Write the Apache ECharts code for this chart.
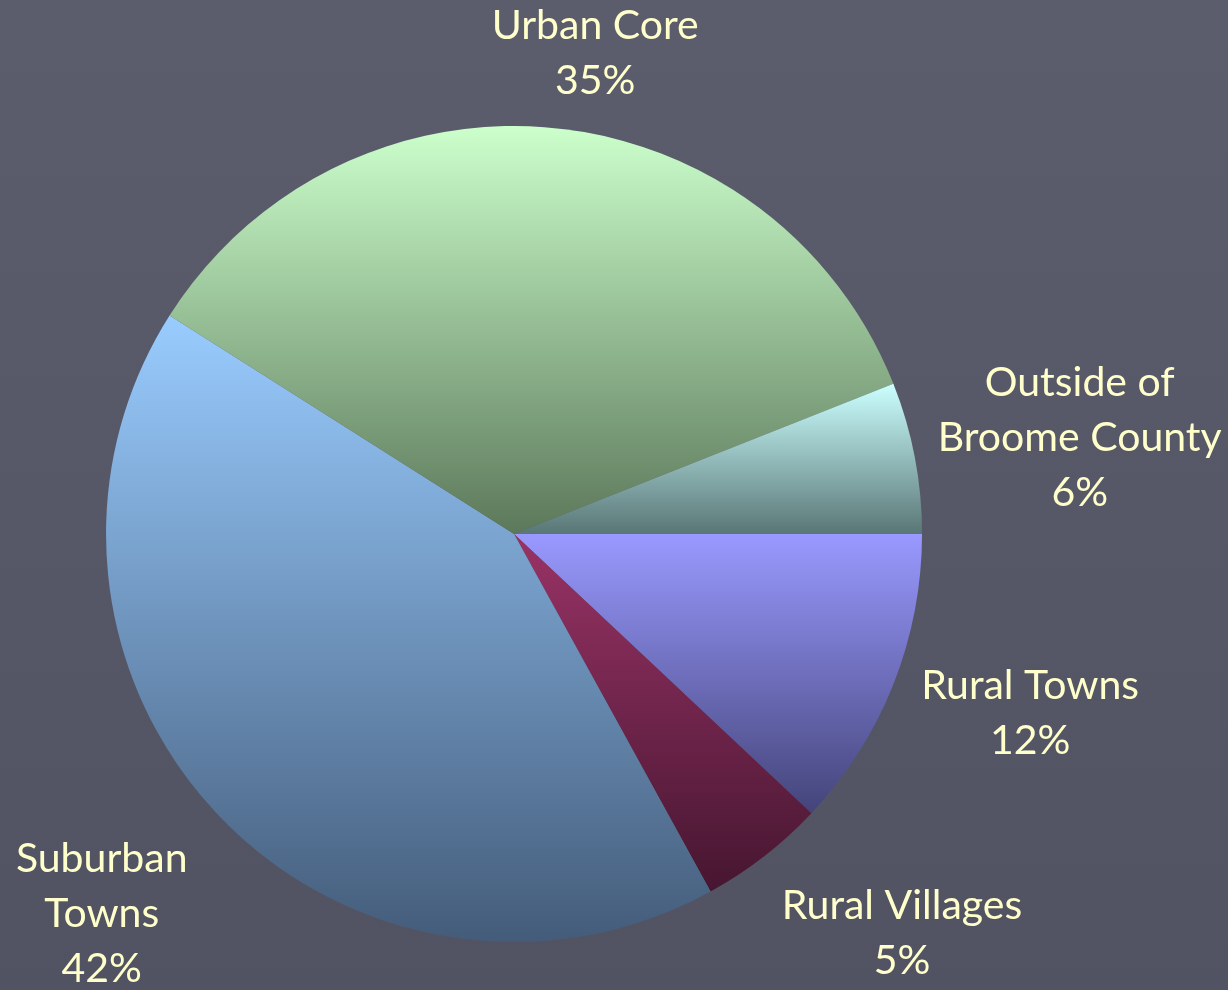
<!DOCTYPE html>
<html>
<head>
<meta charset="utf-8">
<script src="https://cdn.jsdelivr.net/npm/echarts@6/dist/echarts.min.js"></script>
<style>
html,body{margin:0;padding:0;background:#585969;}
#chart{width:1228px;height:990px;}
</style>
</head>
<body>
<div id="chart"></div>
<script>
const categories = ['Rural Towns', 'Rural Villages', 'Suburban\nTowns', 'Urban Core', 'Outside of\nBroome County'];
const shares = [12, 5, 42, 35, 6];
const topColors = ['#9999ff', '#993366', '#99ccff', '#ccffcc', '#ccffff'];
const bottomColors = ['#44447a', '#461630', '#445c7a', '#5c785a', '#5a7676'];

// layout settings (not data)
const CX = 0.4186, CY = 0.5394, R = 408, GAP = 18;
const FONT_SIZE = 41, LINE_H = 55, BOX_W = 330;
const labelNudge = [[7, -22], [55, -30], [-15, 7], [35, 8], [-5, 13]];

const chart = echarts.init(document.getElementById('chart'));
const total = shares.reduce((a, b) => a + b, 0);
const cum = [];
shares.reduce((acc, v, i) => { cum[i] = acc; return acc + v; }, 0);

const ctx = document.createElement('canvas').getContext('2d');
ctx.font = FONT_SIZE + 'px Lato';
function labelLines(i) { return categories[i].split('\n').concat([shares[i] + '%']); }
function labelSize(i) {
  const lines = labelLines(i);
  return { w: Math.max.apply(null, lines.map(l => ctx.measureText(l).width)), h: lines.length * LINE_H };
}

const option = {
  backgroundColor: {
    type: 'linear', x: 0, y: 0, x2: 0, y2: 1,
    colorStops: [{offset: 0, color: '#5b5c6c'}, {offset: 1, color: '#525362'}]
  },
  animation: false,
  series: [{
    type: 'pie',
    center: [(CX * 100) + '%', (CY * 100) + '%'],
    radius: R,
    startAngle: 0,
    clockwise: true,
    avoidLabelOverlap: false,
    data: categories.map((name, i) => ({
      name: name,
      value: shares[i],
      itemStyle: {
        color: {
          type: 'linear', x: 0, y: 0, x2: 0, y2: 1,
          colorStops: [{offset: 0, color: topColors[i]}, {offset: 1, color: bottomColors[i]}]
        }
      }
    })),
    itemStyle: { borderWidth: 0 },
    label: {
      show: true,
      position: 'outside',
      formatter: function (p) {
        return labelLines(p.dataIndex).map(l => '{a|' + l + '}').join('\n');
      },
      rich: {
        a: {
          color: '#ffffcc',
          fontFamily: 'Lato',
          fontSize: FONT_SIZE,
          lineHeight: LINE_H,
          width: BOX_W,
          align: 'center'
        }
      }
    },
    labelLine: { show: false },
    emphasis: { disabled: true },
    labelLayout: function (p) {
      const i = p.dataIndex;
      const mid = (cum[i] + shares[i] / 2) / total * 2 * Math.PI;
      const dx = Math.cos(mid), dy = Math.sin(mid);
      const s = labelSize(i);
      const t = R + GAP + Math.abs(dx) * s.w / 2 + Math.abs(dy) * s.h / 2;
      const cx = chart.getWidth() * CX, cy = chart.getHeight() * CY;
      const tx = cx + dx * t + labelNudge[i][0], ty = cy + dy * t + labelNudge[i][1];
      const r = p.labelRect;
      return { dx: tx - (r.x + r.width / 2), dy: ty - (r.y + r.height / 2) };
    }
  }]
};
chart.setOption(option);
</script>
</body>
</html>
